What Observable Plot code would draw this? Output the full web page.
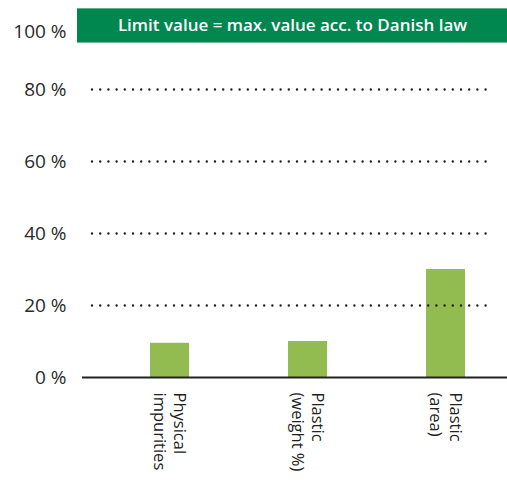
<!DOCTYPE html>
<html>
<head>
<meta charset="utf-8">
<script src="https://cdn.jsdelivr.net/npm/d3@7"></script>
<script src="https://cdn.jsdelivr.net/npm/@observablehq/plot@0.6"></script>
<style>
  html, body { margin: 0; padding: 0; background: #fff; }
  #chart svg { display: block; }
</style>
</head>
<body>
<div id="chart"></div>
<script>
const categories = ["Physical\nimpurities", "Plastic\n(weight %)", "Plastic\n(area)"];
const values = [9.5, 10, 30];
const yTicks = [0, 20, 40, 60, 80];
const topTick = [100];
const gridTicks = [20, 40, 60, 80];
const bannerLow = 92.9;
const bannerHigh = 102.4;
const bannerText = "Limit value = max. value acc. to Danish law";

const data = categories.map((c, i) => ({category: c, value: values[i]}));
const banner = [{y1: bannerLow, y2: bannerHigh, text: bannerText}];

const font = "'Open Sans', 'Noto Sans', sans-serif";

const chart = Plot.plot({
  width: 507,
  height: 485,
  marginLeft: 77,
  marginRight: 0,
  marginTop: 17,
  marginBottom: 108,
  style: {fontFamily: font, color: "#222", background: "#fff"},
  x: {domain: categories, paddingInner: 0.72, paddingOuter: 0.407, align: 0.637, axis: null},
  y: {domain: [0, 100], axis: null},
  marks: [
    Plot.rect(banner, {y1: "y1", y2: "y2", fill: "#00874f"}),
    Plot.text(banner, {y: d => (d.y1 + d.y2) / 2, text: "text", fill: "#fff", fontSize: 17, fontWeight: 600, frameAnchor: "middle"}),
    Plot.barY(data, {x: "category", y: "value", fill: "#92bb50"}),
    Plot.ruleY(gridTicks, {stroke: "#222", strokeWidth: 2.4, strokeDasharray: "0,8.2", strokeLinecap: "round", insetLeft: 15, insetRight: 14}),
    Plot.ruleY([0], {stroke: "#222", strokeWidth: 2, insetLeft: 5}),
    Plot.axisY(yTicks, {tickSize: 0, tickPadding: 11, fontSize: 19, tickFormat: d => d + " %", fill: "#2a2a2a"}),
    Plot.axisY(topTick, {tickSize: 0, tickPadding: 11, fontSize: 19, tickFormat: d => d + " %", fill: "#2a2a2a", dy: 14}),
    Plot.text(data, {x: "category", y: 0, text: "category", rotate: 90, textAnchor: "start", lineAnchor: "middle", lineHeight: 1.2, fontSize: 16.5, fill: "#222", dy: 15})
  ]
});
document.getElementById("chart").appendChild(chart);
</script>
</body>
</html>
